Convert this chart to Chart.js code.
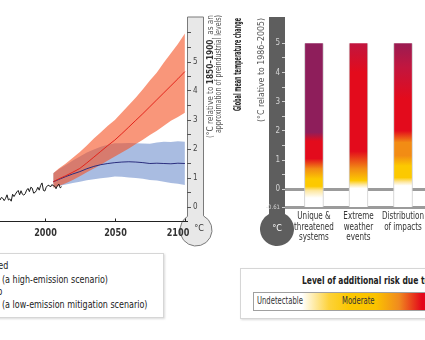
<!DOCTYPE html>
<html>
<head>
<meta charset="utf-8">
<script src="https://cdn.jsdelivr.net/npm/chart.js@4.4.1/dist/chart.umd.min.js"></script>
<style>
  html, body { margin: 0; padding: 0; background: #fff; overflow: hidden; }
  body { width: 425px; height: 340px; position: relative;
         font-family: 'Liberation Sans Narrow', 'DejaVu Sans Condensed', Roboto, sans-serif; color: #222; }
  canvas { position: absolute; top: 0; }
  .box { position: absolute; background: #fff; border: 1px solid #d6d6d6; box-shadow: 1px 1px 2px rgba(0,0,0,0.15); }
  .txt { position: absolute; font-size: 10px; line-height: 12px; white-space: nowrap; transform-origin: left center; }
  .lg { transform: scaleX(0.89); }
  .end { transform-origin: right center; }
  .scale { position: absolute; left: 253px; top: 292px; width: 260px; height: 17px; border: 1px solid #a0a0a0;
           background: linear-gradient(to right, #fff 0px, #fff 48px, #fdd23a 75px, #fcc800 95px, #fbc200 122px, #f08a1f 145px, #e3061b 168px, #e3061b 260px); }
</style>
</head>
<body>
<canvas id="tempChart" width="230" height="250" style="left:0"></canvas>
<canvas id="riskChart" width="230" height="250" style="left:230px"></canvas>

<div class="box" style="left:-60px; top:253px; width:222px; height:63px;"></div>
<div class="txt lg end" style="right:417px; top:260px;">Observed</div>
<div class="txt lg end" style="right:426px; top:274px;">RCP8.5</div>
<div class="txt lg" style="left:2px; top:274px;">(a high-emission scenario)</div>
<div class="txt lg end" style="right:423px; top:286px;">Overlap</div>
<div class="txt lg end" style="right:426px; top:299px;">RCP2.6</div>
<div class="txt lg" style="left:2px; top:299px;">(a low-emission mitigation scenario)</div>

<div class="box" style="left:240px; top:268px; width:260px; height:49px;"></div>
<div class="txt" style="left:302px; top:275px; font-weight:bold; transform:scaleX(0.84);">Level of additional risk due to climate change</div>
<div class="scale"></div>
<div class="txt" style="left:257px; top:295px; color:#333; transform:scaleX(0.76);">Undetectable</div>
<div class="txt" style="left:342px; top:295px; color:#333; transform:scaleX(0.76);">Moderate</div>

<script>
const FONT = "'Liberation Sans Narrow', 'DejaVu Sans Condensed', Roboto, sans-serif";

// observed annual global mean temperature (relative to 1850-1900)
const obsYears = [1968, 1969, 1970, 1971, 1972, 1973, 1974, 1975, 1976, 1977, 1978, 1979, 1980, 1981, 1982,
  1983, 1984, 1985, 1986, 1987, 1988, 1989, 1990, 1991, 1992, 1993, 1994, 1995, 1996, 1997, 1998, 1999,
  2000, 2001, 2002, 2003, 2004, 2005, 2006, 2007, 2008, 2009, 2010, 2011, 2012];
const obsTemp = [0.24, 0.33, 0.30, 0.22, 0.30, 0.42, 0.24, 0.28, 0.20, 0.44, 0.36, 0.44, 0.52, 0.57, 0.42,
  0.56, 0.44, 0.41, 0.46, 0.58, 0.64, 0.53, 0.68, 0.65, 0.48, 0.50, 0.57, 0.68, 0.58, 0.74, 0.83, 0.57,
  0.55, 0.68, 0.74, 0.75, 0.69, 0.77, 0.74, 0.72, 0.63, 0.74, 0.79, 0.66, 0.70];

// projections
const projYears = [2006, 2010, 2015, 2020, 2025, 2030, 2035, 2040, 2045, 2050,
  2055, 2060, 2065, 2070, 2075, 2080, 2085, 2090, 2095, 2100];
const rcp85Mean = [0.87, 0.97, 1.08, 1.20, 1.33, 1.52, 1.72, 1.92, 2.12, 2.31,
  2.53, 2.76, 2.99, 3.22, 3.46, 3.70, 3.94, 4.18, 4.42, 4.67];
const rcp85High = [1.16, 1.33, 1.50, 1.70, 1.90, 2.12, 2.36, 2.58, 2.80, 3.00,
  3.26, 3.52, 3.78, 4.06, 4.36, 4.64, 4.98, 5.30, 5.62, 5.98];
const rcp85Low = [0.66, 0.72, 0.82, 0.93, 1.06, 1.20, 1.33, 1.46, 1.60, 1.74,
  1.88, 2.02, 2.17, 2.32, 2.48, 2.63, 2.80, 2.97, 3.10, 3.25];
const rcp26Mean = [0.87, 0.95, 1.05, 1.14, 1.22, 1.32, 1.40, 1.46, 1.50, 1.53,
  1.55, 1.56, 1.55, 1.53, 1.50, 1.51, 1.50, 1.49, 1.51, 1.50];
const rcp26High = [1.16, 1.30, 1.45, 1.60, 1.74, 1.88, 1.98, 2.08, 2.15, 2.20,
  2.20, 2.21, 2.20, 2.19, 2.18, 2.22, 2.25, 2.24, 2.27, 2.25];
const rcp26Low = [0.68, 0.72, 0.78, 0.83, 0.87, 0.92, 0.96, 0.99, 1.02, 1.05,
  1.04, 1.02, 1.00, 0.97, 0.93, 0.91, 0.87, 0.83, 0.80, 0.76];

const yearTicks = [2000, 2050, 2100];
const tempTicks = [0, 0.5, 1, 1.5, 2, 2.5, 3, 3.5, 4, 4.5, 5, 5.5, 6];

// risk bars
const riskCategories = [['Unique &', 'threatened', 'systems'], ['Extreme', 'weather', 'events'], ['Distribution', 'of impacts']];
const riskFrom = [-0.61, -0.61, -0.61];
const riskTo = [5, 5, 5];
const riskTicks = [-0.61, 0, 0.5, 1, 1.5, 2, 2.5, 3, 3.5, 4, 4.5, 5];
// risk level transitions per category: [temperature, level]
const uniqueRisk = [[-0.3, 'none'], [-0.05, 'pale'], [0.1, 'moderate'], [0.35, 'moderate'], [0.7, 'elevated'],
  [1.05, 'high'], [1.65, 'high'], [1.95, 'veryHigh'], [5, 'veryHigh']];
const extremeRisk = [[0.03, 'none'], [0.15, 'pale'], [0.3, 'moderate'], [0.7, 'elevated'], [1.3, 'high'],
  [4.0, 'high'], [5, 'severe']];
const distributionRisk = [[0.12, 'none'], [0.25, 'pale'], [0.4, 'moderate'], [0.8, 'moderate'], [1.15, 'elevated'],
  [1.6, 'elevated'], [2.0, 'high'], [3.1, 'high'], [4.2, 'severe'], [5, 'deep']];
const riskLevels = [uniqueRisk, extremeRisk, distributionRisk];

const levelColors = {
  none: '#ffffff', pale: '#fde7a0', moderate: '#fcc900', elevated: '#f28c14',
  high: '#e30b1c', severe: '#c1163f', veryHigh: '#8e1e5b', deep: '#9a1c52'
};

Chart.defaults.font.family = FONT;

// draws text reading bottom-to-top, squeezed to a given length
function drawVertical(ctx, runs, cx, yTop, length) {
  ctx.save();
  let total = 0;
  runs.forEach(r => { ctx.font = r[1]; total += ctx.measureText(r[0]).width; });
  ctx.translate(cx, yTop + length);
  ctx.rotate(-Math.PI / 2);
  ctx.scale(length / total, 1);
  ctx.textAlign = 'left';
  ctx.textBaseline = 'middle';
  let x = 0;
  runs.forEach(r => {
    ctx.font = r[1];
    ctx.fillStyle = r[2];
    ctx.fillText(r[0], x, 0);
    x += ctx.measureText(r[0]).width;
  });
  ctx.restore();
}

// horizontal text centred on x, squeezed by factor k
function drawSqueezed(ctx, text, x, y, k) {
  ctx.save();
  ctx.translate(x, y);
  ctx.scale(k, 1);
  ctx.textAlign = 'center';
  ctx.textBaseline = 'middle';
  ctx.fillText(text, 0, 0);
  ctx.restore();
}

function thermometer(ctx, left, right, top, cx, cy, r) {
  const a1 = Math.atan2(-Math.sqrt(r * r - (right - cx) ** 2), right - cx);
  const a2 = Math.atan2(-Math.sqrt(r * r - (left - cx) ** 2), left - cx) + Math.PI * 2;
  ctx.beginPath();
  ctx.moveTo(left, cy + Math.sin(a2) * r);
  ctx.lineTo(left, top);
  ctx.lineTo(right, top);
  ctx.lineTo(right, cy + Math.sin(a1) * r);
  ctx.arc(cx, cy, r, a1, a2, false);
  ctx.closePath();
}

const tempDecor = {
  id: 'tempDecor',
  beforeDraw(chart) {
    const { ctx, chartArea } = chart;
    ctx.save();
    thermometer(ctx, chartArea.right + 0.5, chartArea.right + 16.5, chartArea.top - 1.5, 196, 230, 16);
    ctx.fillStyle = '#e8e8e8';
    ctx.fill();
    ctx.strokeStyle = '#7a7a7a';
    ctx.lineWidth = 1;
    ctx.stroke();
    ctx.restore();
  },
  afterDraw(chart) {
    const { ctx, chartArea } = chart;
    const x = chart.scales.x;
    ctx.save();
    ctx.strokeStyle = '#222';
    ctx.lineWidth = 1;
    ctx.fillStyle = '#333';
    ctx.font = 'bold 10px ' + FONT;
    yearTicks.forEach(v => {
      const px = Math.round(x.getPixelForValue(v)) + 0.5;
      ctx.beginPath();
      ctx.moveTo(px, chartArea.bottom);
      ctx.lineTo(px, chartArea.bottom - 3);
      ctx.stroke();
      drawSqueezed(ctx, String(v), Math.min(px, chartArea.right - 9), chartArea.bottom + 11.5, 0.9);
    });
    ctx.font = '9px ' + FONT;
    drawSqueezed(ctx, '°C', 199, 229, 1);
    drawVertical(ctx, [['(°C relative to ', '9px ' + FONT, '#555'], ['1850–1900', 'bold 9px ' + FONT, '#333'],
      [', as an', '9px ' + FONT, '#555']], 211, 15, 123);
    drawVertical(ctx, [['approximation of preindustrial levels)', '9px ' + FONT, '#555']], 218.5, 15, 118);
    ctx.restore();
  }
};

const pts = (xs, ys) => xs.map((v, i) => ({ x: v, y: ys[i] }));

new Chart(document.getElementById('tempChart'), {
  type: 'line',
  data: {
    datasets: [
      { label: 'Observed', data: pts(obsYears, obsTemp), borderColor: '#1a1a1a', borderWidth: 1 },
      { label: 'RCP8.5', data: pts(projYears, rcp85Mean), borderColor: '#e2231a', borderWidth: 1 },
      { label: 'RCP2.6', data: pts(projYears, rcp26Mean), borderColor: '#2b2e7e', borderWidth: 1 },
      { label: 'RCP8.5 high', data: pts(projYears, rcp85High), borderWidth: 0, borderColor: 'transparent',
        fill: { target: 4 }, backgroundColor: 'rgba(245,80,33,0.6)' },
      { label: 'RCP8.5 low', data: pts(projYears, rcp85Low), borderWidth: 0, borderColor: 'transparent' },
      { label: 'RCP2.6 high', data: pts(projYears, rcp26High), borderWidth: 0, borderColor: 'transparent',
        fill: { target: 6 }, backgroundColor: 'rgba(140,165,215,0.75)' },
      { label: 'RCP2.6 low', data: pts(projYears, rcp26Low), borderWidth: 0, borderColor: 'transparent' }
    ]
  },
  options: {
    responsive: false,
    animation: false,
    events: [],
    layout: { padding: { top: 18.5, left: 0, right: 0, bottom: 0 } },
    elements: { point: { radius: 0 }, line: { tension: 0 } },
    scales: {
      x: {
        type: 'linear', min: 1968, max: 2101.5,
        grid: { display: false },
        border: { display: true, color: '#222', width: 1 },
        ticks: { display: false },
        afterFit(s) { s.height = 28.5; }
      },
      y: {
        position: 'right', min: -0.5, max: 6.5,
        afterBuildTicks(s) { s.ticks = tempTicks.map(v => ({ value: v })); },
        grid: { drawOnChartArea: false, tickLength: 4, tickColor: '#555', tickWidth: 1 },
        border: { display: false },
        ticks: {
          color: '#444', padding: 2, font: { size: 8 },
          callback: v => (Number.isInteger(v) && v <= 5 ? String(v) : '')
        },
        afterFit(s) { s.width = 43; }
      }
    },
    plugins: { legend: { display: false }, tooltip: { enabled: false } }
  },
  plugins: [tempDecor]
});

const riskDecor = {
  id: 'riskDecor',
  beforeDraw(chart) {
    const { ctx, chartArea } = chart;
    ctx.save();
    thermometer(ctx, chartArea.left - 16, chartArea.left, chartArea.top, 47, 229, 17);
    ctx.fillStyle = '#5e5e5e';
    ctx.fill();
    ctx.restore();
  },
  afterDraw(chart) {
    const { ctx, chartArea } = chart;
    const x = chart.scales.x;
    ctx.save();
    ctx.fillStyle = '#fff';
    ctx.font = '9px ' + FONT;
    drawSqueezed(ctx, '°C', 47, 229, 1);
    // category labels under each bar
    ctx.fillStyle = '#333';
    ctx.font = '10px ' + FONT;
    x.ticks.forEach((t, i) => {
      const px = x.getPixelForValue(t.value);
      riskCategories[i].forEach((line, j) => drawSqueezed(ctx, line, px, chartArea.bottom + 9.5 + j * 10.7, 0.8));
    });
    drawVertical(ctx, [['Global mean temperature change', 'bold 10px ' + FONT, '#222']], 8, 18, 93);
    drawVertical(ctx, [['(°C relative to 1986–2005)', '9.5px ' + FONT, '#555']], 32, 18, 104);
    ctx.restore();
  }
};

function riskGradient(context) {
  const chart = context.chart;
  if (!chart.chartArea) return '#fff';
  const i = context.dataIndex;
  const y = chart.scales.y;
  const lo = riskFrom[i], hi = riskTo[i];
  const g = chart.ctx.createLinearGradient(0, y.getPixelForValue(lo), 0, y.getPixelForValue(hi));
  g.addColorStop(0, levelColors[riskLevels[i][0][1]]);
  riskLevels[i].forEach(([t, lvl]) => g.addColorStop(Math.min(1, Math.max(0, (t - lo) / (hi - lo))), levelColors[lvl]));
  return g;
}

new Chart(document.getElementById('riskChart'), {
  type: 'bar',
  data: {
    datasets: [{
      label: 'Risk',
      data: riskCategories.map((c, i) => ({ x: i, y: [riskFrom[i], riskTo[i]] })),
      backgroundColor: riskGradient,
      borderColor: '#cfcfcf',
      borderWidth: { left: 1, right: 1, top: 0, bottom: 0 },
      borderSkipped: false,
      barThickness: 19
    }]
  },
  options: {
    responsive: false,
    animation: false,
    events: [],
    layout: { padding: { top: 17, left: 0, right: 0, bottom: 0 } },
    scales: {
      x: {
        type: 'linear', min: -0.65, max: 3.28, offset: false,
        afterBuildTicks(s) { s.ticks = riskCategories.map((c, i) => ({ value: i })); },
        grid: { display: false },
        border: { display: false },
        ticks: { display: false },
        afterFit(s) { s.height = 43; }
      },
      y: {
        z: 1,
        min: -0.61, max: 5.9,
        afterBuildTicks(s) { s.ticks = riskTicks.map(v => ({ value: v })); },
        grid: {
          color: c => (c.tick && (c.tick.value === 0 || c.tick.value === -0.61) ? '#9b9b9b' : 'rgba(0,0,0,0)'),
          lineWidth: 3, tickColor: '#cfcfcf', tickWidth: 1, tickLength: 3
        },
        border: { display: false },
        ticks: {
          color: '#d4d4d4', padding: 2,
          font: c => ({ size: c.tick && c.tick.value === -0.61 ? 6 : 8 }),
          callback: v => (v === -0.61 ? '-0.61' : Number.isInteger(v) ? String(v) : '')
        },
        afterFit(s) { s.width = 55; }
      }
    },
    plugins: { legend: { display: false }, tooltip: { enabled: false } }
  },
  plugins: [riskDecor]
});
</script>
</body>
</html>
